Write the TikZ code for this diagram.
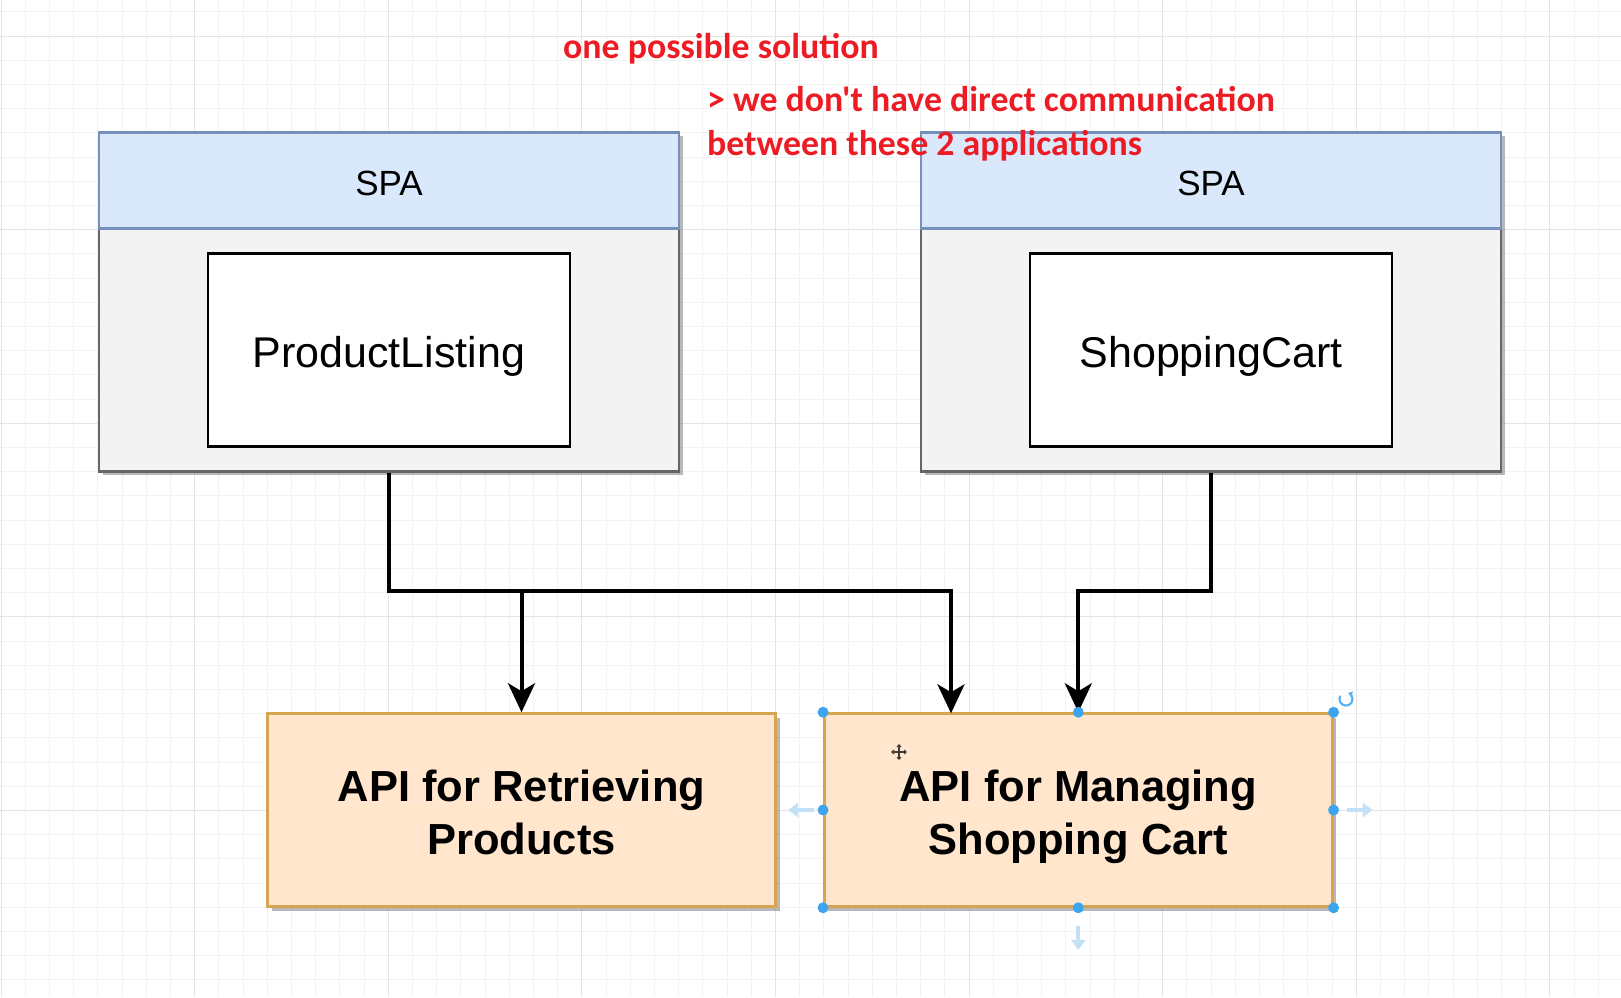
\documentclass[tikz,border=0pt]{standalone}
\usepackage{fontspec}
\setmainfont{Liberation Sans}
\newfontfamily\notefont[Ligatures=TeXOff]{Carlito}
\usepackage{tikz}
\usetikzlibrary{positioning, arrows.meta, shadows}
\definecolor{SpaBlue}{HTML}{DAE8FC}
\definecolor{SpaBlueLine}{HTML}{7590BA}
\definecolor{SpaGray}{HTML}{F3F3F3}
\definecolor{SpaGrayLine}{HTML}{666666}
\definecolor{ApiFill}{HTML}{FFE6CC}
\definecolor{ApiLine}{HTML}{D7A552}
\definecolor{NoteRed}{HTML}{ED1C24}
\definecolor{HandleBlue}{HTML}{3DA5F0}
\definecolor{HoverBlue}{HTML}{C2E0F6}
\definecolor{GridMinor}{HTML}{F2F2F2}
\definecolor{GridMajor}{HTML}{E4E4E4}
\definecolor{CursorGray}{HTML}{3A3A3A}

\tikzset{
  gridminor/.style={GridMinor, line width=0.8pt},
  gridmajor/.style={GridMajor, line width=0.9pt},
  note/.style={font=\notefont\bfseries\fontsize{35.8}{44}\selectfont, text=NoteRed, inner sep=0pt},
  boxshadow/.style={drop shadow={shadow xshift=4pt, shadow yshift=-4pt, fill=black!55, opacity=0.5}},
  spabody/.style={draw=SpaGrayLine, fill=SpaGray, line width=2.5pt, minimum width=580pt,
    minimum height=339pt, inner sep=0pt, boxshadow},
  spahead/.style={draw=SpaBlueLine, fill=SpaBlue, line width=2.5pt, minimum width=580pt,
    minimum height=96pt, inner sep=0pt, text height=30pt, text depth=0pt,
    font=\fontsize{35}{40}\selectfont},
  mfebox/.style={draw=black, fill=white, line width=2.5pt, minimum width=362pt,
    minimum height=193pt, inner sep=0pt, text height=35pt, text depth=0pt,
    font=\fontsize{43}{50}\selectfont},
  apibox/.style={draw=ApiLine, fill=ApiFill, line width=2.5pt, minimum width=508pt,
    minimum height=193pt, inner sep=0pt, align=center, text height=89pt, text depth=0pt,
    font=\bfseries\fontsize{43.5}{53}\selectfont, boxshadow},
  link/.style={line width=4pt, -{Stealth[length=29pt, width=27pt, inset=8pt]}},
  hover/.style={HoverBlue, line width=4pt, -{Triangle[length=10pt, width=14pt]}},
  handle/.style={fill=HandleBlue},
}

\begin{document}
\begin{tikzpicture}[x=1pt, y=-1pt]
  \useasboundingbox (0,0) rectangle (1621,997);
  \fill[white] (0,0) rectangle (1621,997);

  %% grid
  \foreach \k in {0,...,66}{
    \pgfmathsetmacro{\gx}{1+24.2*\k}
    \draw[gridminor] (\gx,0) -- (\gx,997);
  }
  \foreach \k in {0,...,40}{
    \pgfmathsetmacro{\gy}{11.8+24.2*\k}
    \draw[gridminor] (0,\gy) -- (1621,\gy);
  }
  \foreach \k in {0,...,8}{
    \pgfmathsetmacro{\gx}{1+193.6*\k}
    \draw[gridmajor] (\gx,0) -- (\gx,997);
  }
  \foreach \k in {0,...,4}{
    \pgfmathsetmacro{\gy}{36+193.6*\k}
    \draw[gridmajor] (0,\gy) -- (1621,\gy);
  }

  %% single page applications
  \node[spabody] (spaL) at (389,301.8) {};
  \node[spahead] (spaLhead) at (389,180.4) {SPA};
  \node[mfebox] (prodList) at (389,350) {ProductListing};

  \node[spabody] (spaR) at (1211,301.8) {};
  \node[spahead] (spaRhead) at (1211,180.4) {SPA};
  \node[mfebox] (cart) at (1211,350) {ShoppingCart};

  %% backend APIs
  \node[apibox] (apiProd) at (521.5,810) {API for Retrieving\\Products};
  \node[apibox] (apiCart) at (1078.3,810) {API for Managing\\Shopping Cart};

  %% notes
  \node[note, anchor=base west] (noteTitle) at (563,58) {one possible solution};
  \node[note, anchor=base west] (noteLineA) at (707,111)
    {> we don't have direct communication};
  \node[note, anchor=base west] (noteLineB) at (707,155.5)
    {between these 2 applications};

  %% connectors
  \coordinate (busL) at (389,591.3);
  \coordinate (cartIn) at (951,713.3);
  \coordinate (busR) at (apiCart.north |- busL);
  \draw[link] (spaL.south) -- (busL) -| (cartIn);
  \draw[link] (busL -| apiProd.north) -- (apiProd.north);
  \draw[link] (spaR.south) |- (busR) -- (apiCart.north);

  %% selection handles on the cart API
  \foreach \a in {north west, north, north east, east, south east, south, south west, west}
    \fill[handle] (apiCart.\a) circle (5.5pt);
  \draw[hover] ([xshift=-9pt]apiCart.west) -- ++(-26,0);
  \draw[hover] ([xshift=13pt]apiCart.east) -- ++(26,0);
  \draw[hover] ([yshift=-18pt]apiCart.south) -- ++(0,24);
  \coordinate (rotC) at (1346,699);
  \draw[HandleBlue!85, line width=2.2pt, -{Triangle[length=4pt, width=6pt]}]
    ([shift={(150:6.5pt)}]rotC) arc[start angle=150, end angle=430, radius=6.5pt];

  %% move cursor
  \coordinate (moveC) at (899,752);
  \draw[CursorGray, line width=2pt, {Triangle[length=3pt, width=5pt]}-{Triangle[length=3pt, width=5pt]}]
    ([xshift=-8pt]moveC) -- ([xshift=8pt]moveC);
  \draw[CursorGray, line width=2pt, {Triangle[length=3pt, width=5pt]}-{Triangle[length=3pt, width=5pt]}]
    ([yshift=-8pt]moveC) -- ([yshift=8pt]moveC);
\end{tikzpicture}
\end{document}
